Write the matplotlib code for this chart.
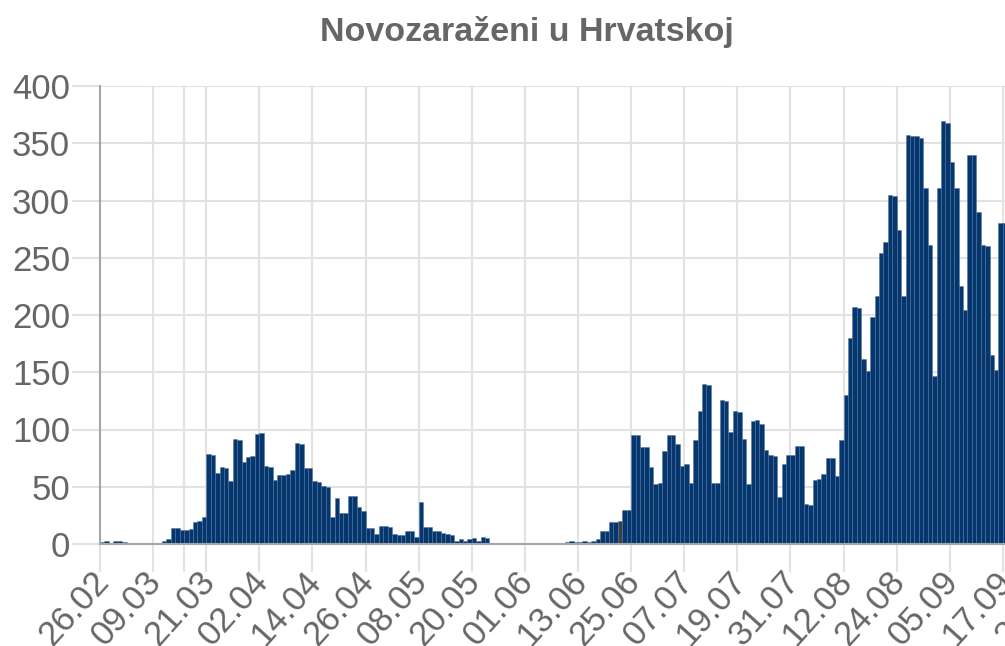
import numpy as np
import pandas as pd
import matplotlib
matplotlib.use("Agg")
import matplotlib.pyplot as plt
from matplotlib.transforms import ScaledTranslation

plt.rcParams['font.family'] = ['Liberation Sans', 'DejaVu Sans']

TITLE = "Novozaraženi u Hrvatskoj"
START_DATE = "2020-02-26"

# daily new cases, one value per day starting 26.02
NEW_CASES = [
    2, 3, 0, 3, 3, 2, 0, 1, 0, 0,
    1, 0, 1, 0, 3, 4, 14, 14, 12, 12,
    13, 19, 20, 24, 79, 78, 62, 67, 66, 55,
    92, 91, 72, 76, 77, 96, 97, 68, 67, 56,
    60, 60, 61, 65, 88, 87, 66, 66, 55, 54,
    51, 50, 24, 40, 27, 27, 42, 42, 32, 29,
    14, 14, 9, 16, 16, 15, 9, 8, 8, 11,
    11, 6, 37, 15, 15, 11, 11, 10, 9, 8,
    3, 4, 3, 4, 5, 3, 6, 5, 0, 1,
    1, 0, 1, 1, 1, 0, 0, 0, 0, 1,
    1, 1, 0, 0, 1, 2, 3, 2, 2, 3,
    2, 3, 4, 11, 11, 19, 19, 20, 30, 30,
    95, 95, 85, 85, 67, 52, 53, 81, 95, 95,
    87, 68, 70, 53, 91, 116, 140, 139, 53, 53,
    126, 125, 98, 116, 115, 92, 52, 107, 108, 105,
    82, 78, 77, 41, 70, 78, 78, 86, 86, 35,
    34, 56, 57, 61, 75, 75, 59, 91, 130, 180,
    207, 206, 162, 151, 198, 217, 254, 264, 305, 304,
    274, 217, 357, 356, 356, 355, 311, 261, 147, 311,
    369, 368, 334, 311, 225, 204, 340, 340, 290, 261,
    260, 165, 152, 280, 280,
]

TICK_LABELS = ["26.02", "09.03", "21.03", "02.04", "14.04", "26.04", "08.05",
               "20.05", "01.06", "13.06", "25.06", "07.07", "19.07", "31.07",
               "12.08", "24.08", "05.09", "17.09", "29.09"]
UNLABELLED_TICKS = ["16.03"]
HIGHLIGHTED_DAY = "22.06"
Y_TICKS = [0, 50, 100, 150, 200, 250, 300, 350, 400]

BAR_COLOR = "#05376e"
BAR_EDGE = (0.30, 0.44, 0.62, 0.55)
HIGHLIGHT_COLOR = "#3c3f44"
GRID_COLOR = "#e2e2e2"
AXIS_COLOR = "#a6a6a6"
TEXT_COLOR = "#666666"

n_days_axis = 230
dates = pd.date_range(START_DATE, periods=n_days_axis)
day_labels = [d.strftime("%d.%m") for d in dates]
pos = {lbl: i for i, lbl in enumerate(day_labels)}

W, H = 1005, 646
fig = plt.figure(figsize=(W / 100, H / 100), dpi=100)
px_per_day = 4.426
ax = fig.add_axes([100 / W, 102 / H, n_days_axis * px_per_day / W, 458 / H])

x = np.arange(len(NEW_CASES)) + 0.5
colors = [HIGHLIGHT_COLOR if day_labels[i] == HIGHLIGHTED_DAY else BAR_COLOR
          for i in range(len(NEW_CASES))]
ax.bar(x, NEW_CASES, width=1.0, color=colors, edgecolor=BAR_EDGE,
       linewidth=0.6, zorder=2)

ax.set_xlim(0, n_days_axis)
ax.set_ylim(0, 400)
ax.set_yticks(Y_TICKS)
ax.set_yticklabels([str(v) for v in Y_TICKS])

ax.set_xticks([pos[l] for l in TICK_LABELS])
ax.set_xticklabels(TICK_LABELS, rotation=48, ha='right', va='center',
                   rotation_mode='anchor')
ax.set_xticks([pos[l] for l in UNLABELLED_TICKS], minor=True)

# lengths in points: 28 px tick marks, 2 px label pad
ax.tick_params(axis='both', which='both', length=28 * 0.72, width=1.5,
               color=GRID_COLOR, labelcolor=TEXT_COLOR, labelsize=25, pad=2 * 0.72)
ax.grid(True, which='both', color=GRID_COLOR, linewidth=1.5, zorder=0)
ax.set_axisbelow(True)

for lab in ax.get_xticklabels():
    lab.set_transform(lab.get_transform() + ScaledTranslation(3 / 100, -2 / 100, fig.dpi_scale_trans))

for s in ['top', 'right']:
    ax.spines[s].set_visible(False)
for s in ['left', 'bottom']:
    ax.spines[s].set_color(AXIS_COLOR)
    ax.spines[s].set_linewidth(1.5)

fig.text(527 / W, 1 - 32 / H, TITLE, ha='center', va='center',
         fontsize=24.5, fontweight='bold', color=TEXT_COLOR)

fig.savefig("out.png", dpi=100)
